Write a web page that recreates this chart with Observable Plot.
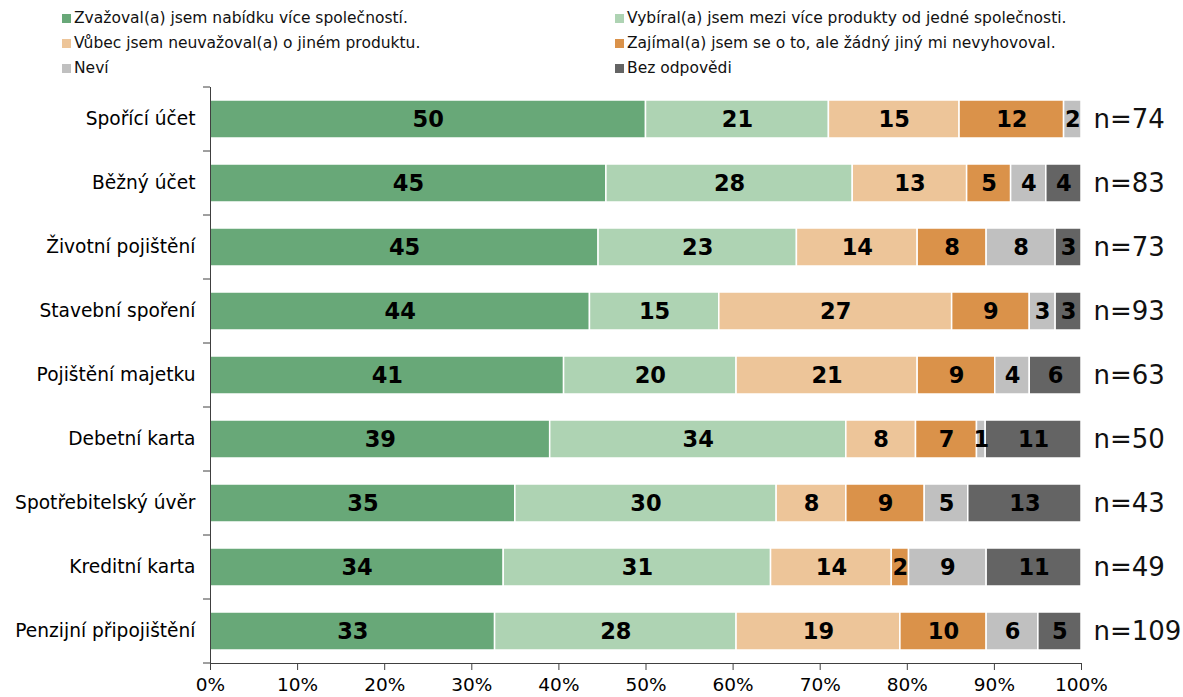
<!DOCTYPE html>
<html>
<head>
<meta charset="utf-8">
<script src="https://cdn.jsdelivr.net/npm/d3@7"></script>
<script src="https://cdn.jsdelivr.net/npm/@observablehq/plot@0.6"></script>
<style>
  body { margin: 0; background: #fff; font-family: "DejaVu Sans", Verdana, sans-serif; }
  #legend { position: relative; height: 80px; width: 1183px; font-size: 15.5px; color: #111; }
  .item { position: absolute; display: flex; align-items: center; white-space: nowrap; }
  .sw { width: 9px; height: 9px; margin-right: 3px; }
</style>
</head>
<body>
<div id="legend"></div>
<div id="chart"></div>
<script>
const categories = ["Spořící účet", "Běžný účet", "Životní pojištění", "Stavební spoření", "Pojištění majetku", "Debetní karta", "Spotřebitelský úvěr", "Kreditní karta", "Penzijní připojištění"];
const seriesNames = [
  "Zvažoval(a) jsem nabídku více společností.",
  "Vybíral(a) jsem mezi více produkty od jedné společnosti.",
  "Vůbec jsem neuvažoval(a) o jiném produktu.",
  "Zajímal(a) jsem se o to, ale žádný jiný mi nevyhovoval.",
  "Neví",
  "Bez odpovědi"
];
const seriesColors = ["#68a878", "#aed3b3", "#edc599", "#da924a", "#c0c0c0", "#646464"];
const nCounts = [74, 83, 73, 93, 63, 50, 43, 49, 109];
const considered    = [50, 45, 45, 44, 41, 39, 35, 34, 33];
const oneCompany    = [21, 28, 23, 15, 20, 34, 30, 31, 28];
const notConsidered = [15, 13, 14, 27, 21, 8, 8, 14, 19];
const noneSuited    = [12, 5, 8, 9, 9, 7, 9, 2, 10];
const dontKnow      = [2, 4, 8, 3, 4, 1, 5, 9, 6];
const noAnswer      = [0, 4, 3, 3, 6, 11, 13, 11, 5];
const xTicks = [0, 0.1, 0.2, 0.3, 0.4, 0.5, 0.6, 0.7, 0.8, 0.9, 1];

const seriesValues = [considered, oneCompany, notConsidered, noneSuited, dontKnow, noAnswer];
const data = [];
categories.forEach((cat, i) => {
  seriesValues.forEach((vals, s) => {
    data.push({cat, series: seriesNames[s], value: vals[i]});
  });
});
const nData = categories.map((cat, i) => ({cat, n: nCounts[i]}));

// Legend (2 columns, row-wise)
const legend = document.getElementById("legend");
seriesNames.forEach((name, i) => {
  const col = i % 2, row = Math.floor(i / 2);
  const el = document.createElement("div");
  el.className = "item";
  el.style.left = (col === 0 ? 62 : 615) + "px";
  el.style.top = (9 + row * 25) + "px";
  el.innerHTML = `<span class="sw" style="background:${seriesColors[i]}"></span><span>${name}</span>`;
  legend.appendChild(el);
});

const marginLeft = 210, marginTop = 7;
const plot = Plot.plot({
  width: 1183,
  height: 617,
  marginLeft,
  marginRight: 102,
  marginTop,
  marginBottom: 34,
  style: {fontFamily: "DejaVu Sans, Verdana, sans-serif", color: "#000", background: "#fff"},
  x: {domain: [0, 1]},
  y: {domain: categories, paddingInner: 0.4, paddingOuter: 0.2},
  color: {domain: seriesNames, range: seriesColors},
  marks: [
    Plot.barX(data, Plot.stackX({x: "value", y: "cat", z: "series", fill: "series", offset: "normalize", stroke: "white", strokeWidth: 1.5})),
    Plot.text(data, Plot.stackX({x: "value", y: "cat", z: "series", offset: "normalize", text: d => d.value > 0 ? String(d.value) : null, fontSize: 22.5, fontWeight: "bold", fill: "#000"})),
    Plot.text(nData, {x: 1, y: "cat", text: d => "n=" + d.n, textAnchor: "start", dx: 12, fontSize: 26, fill: "#111"}),
    Plot.frame({anchor: "left", stroke: "#404040"}),
    Plot.frame({anchor: "bottom", stroke: "#404040"}),
    Plot.axisY({tickSize: 0, tickPadding: 15, fontSize: 18.6, label: null}),
    Plot.axisX({ticks: xTicks, tickFormat: d3.format(".0%"), tickSize: 7, tickPadding: 7, fontSize: 18.5, label: null, stroke: "#404040"})
  ]
});

// boundary ticks on the category axis
const ys = plot.scale("y");
const gap = (ys.step - ys.bandwidth) / 2;
const bounds = categories.map(c => ys.apply(c) - gap);
bounds.push(ys.apply(categories[categories.length - 1]) + ys.bandwidth + gap);
d3.select(plot).append("g").attr("stroke", "#404040")
  .selectAll("line").data(bounds).join("line")
  .attr("x1", marginLeft - 7).attr("x2", marginLeft)
  .attr("y1", d => d).attr("y2", d => d);

document.getElementById("chart").appendChild(plot);
</script>
</body>
</html>
